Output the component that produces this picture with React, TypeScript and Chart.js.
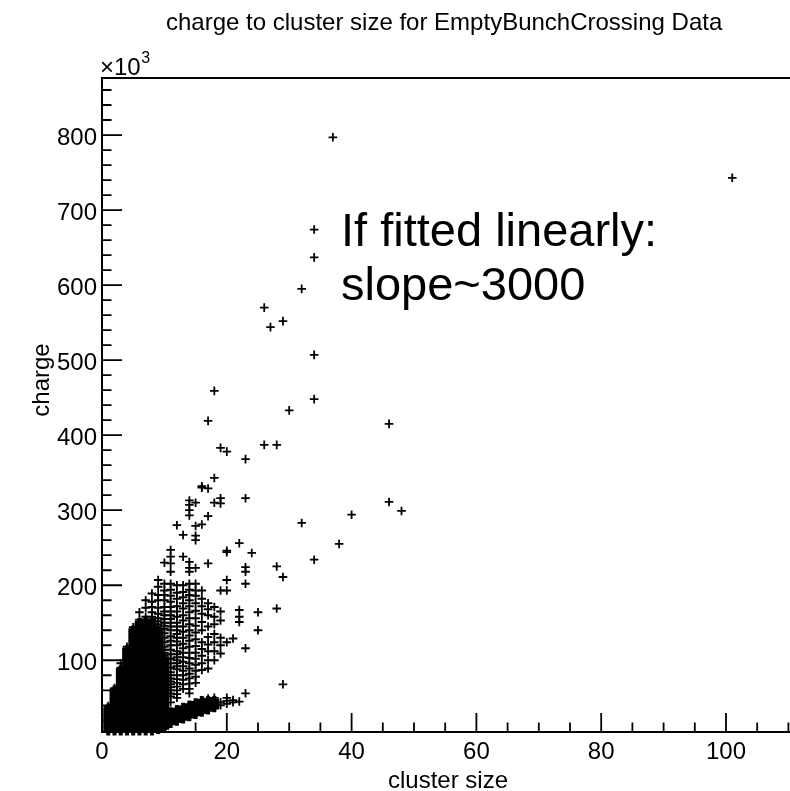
import React, { useEffect, useRef } from "react";
import { Chart, registerables } from "chart.js";

Chart.register(...registerables);

// ---------- texts ----------
const TITLE = "charge to cluster size for EmptyBunchCrossing Data";
const X_TITLE = "cluster size";
const Y_TITLE = "charge";
const NOTE_LINES = ["If fitted linearly:", "slope~3000"];
const Y_EXPONENT = "3";

// ---------- axes ----------
const X_RANGE = [0, 112.5];
const Y_RANGE = [4.4, 876]; // charge in units of 10^3
const X_TICKS = [0, 20, 40, 60, 80, 100];
const Y_TICKS = [100, 200, 300, 400, 500, 600, 700, 800];
const X_MINOR_STEP = 5;
const Y_MINOR_STEP = 20;

// ---------- data (charge in units of 10^3) ----------
// densely populated region (thousands of overlapping entries): cluster size -> charges
const coreSizes = [1, 2, 3, 4, 5, 6, 7, 8, 9, 10, 11, 12, 13, 14, 15, 16, 17, 18];
const coreCharges: number[][] = [
  /* 1 */ [6, 9, 12, 15, 18, 21, 24, 27, 30, 33, 36],
  /* 2 */ [6, 9, 12, 15, 18, 21, 24, 27, 30, 33, 36, 39, 42, 45, 48, 51, 54, 57, 60],
  /* 3 */ [6, 9, 12, 15, 18, 21, 24, 27, 30, 33, 36, 39, 42, 45, 48, 51, 54, 57, 60, 63, 66, 69, 72, 75, 78, 81, 84, 87],
  /* 4 */ [6, 9, 12, 15, 18, 21, 24, 27, 30, 33, 36, 39, 42, 45, 48, 51, 54, 57, 60, 63, 66, 69, 72, 75, 78, 82, 86, 90, 94, 98, 102, 106, 110, 114],
  /* 5 */ [6, 9, 12, 15, 18, 21, 24, 27, 30, 33, 36, 39, 42, 45, 48, 51, 54, 57, 60, 63, 66, 69, 72, 75, 78, 81, 84, 87, 90, 93, 96, 100, 104, 108, 112, 116, 120, 124, 128, 132, 136, 140],
  /* 6 */ [6, 9, 12, 15, 18, 21, 24, 27, 30, 33, 36, 39, 42, 45, 48, 51, 54, 57, 60, 63, 66, 69, 72, 75, 78, 81, 84, 87, 90, 93, 96, 99, 102, 106, 110, 114, 118, 122, 126, 130, 134, 138, 142, 146, 150],
  /* 7 */ [6, 9, 12, 15, 18, 21, 24, 27, 30, 33, 36, 39, 42, 45, 48, 51, 54, 57, 60, 63, 66, 69, 72, 75, 78, 81, 84, 87, 90, 93, 96, 99, 102, 106, 110, 114, 118, 122, 126, 130, 134, 138, 142, 146, 150, 153],
  /* 8 */ [6, 9, 12, 15, 18, 21, 24, 27, 30, 33, 36, 39, 42, 45, 48, 51, 54, 57, 60, 63, 66, 69, 72, 75, 78, 81, 84, 87, 90, 93, 96, 99, 102, 106, 110, 114, 118, 122, 126, 130, 134, 138, 142, 146, 150],
  /* 9 */ [8, 11, 14, 17, 20, 23, 26, 29, 32, 35, 38, 41, 44, 47, 50, 53, 56, 60, 64, 68, 72, 76, 80, 84, 88, 92, 96, 100, 104, 108, 112, 116, 120, 124, 128, 132, 136, 140],
  /* 10 */ [10, 13, 16, 19, 22, 25, 28, 31, 34, 37, 40, 43, 46, 50, 54, 58, 62, 66, 70, 74, 78, 82, 86, 90, 94, 98, 102],
  /* 11 */ [16, 19, 22, 25, 28, 31],
  /* 12 */ [19, 22, 25, 28, 31, 34],
  /* 13 */ [22, 25, 28, 31, 34, 37],
  /* 14 */ [25, 28, 31, 34, 37, 40],
  /* 15 */ [28, 31, 34, 37, 40, 43],
  /* 16 */ [31, 34, 37, 40, 43, 46],
  /* 17 */ [34, 37, 40, 43, 46],
  /* 18 */ [37, 40, 43, 46],
];

// individually resolved entries: cluster size -> charges
const clusterSizes = [
  1, 2, 3, 4, 5, 6, 7, 8, 9, 10, 11, 12, 13, 14, 15, 16, 17, 18, 19, 20, 21, 22, 23, 24, 25,
  26, 27, 28, 29, 30, 32, 34, 37, 38, 40, 46, 48, 101,
];
const chargesAtSize: number[][] = [
  /* 1 */ [39],
  /* 2 */ [63],
  /* 3 */ [90, 96],
  /* 4 */ [118],
  /* 5 */ [144],
  /* 6 */ [154, 164],
  /* 7 */ [158, 170, 180],
  /* 8 */ [154, 158, 164, 171, 178, 189],
  /* 9 */ [144, 148, 152, 156, 162, 170, 180, 187, 198, 207],
  /* 10 */ [106, 110, 114, 118, 124, 130, 136, 142, 146, 150, 155, 160, 165, 171, 180, 187, 193, 202, 230],
  /* 11 */ [44, 52, 56, 60, 64, 68, 72, 76, 80, 84, 90, 96, 102, 108, 114, 120, 126, 132, 140, 145, 150, 155, 160, 165, 171, 178, 186, 194, 202, 218, 229, 238, 247],
  /* 12 */ [50, 55, 60, 65, 70, 75, 80, 88, 92, 96, 100, 104, 108, 112, 120, 125, 130, 135, 140, 145, 150, 158, 165, 172, 182, 190, 200, 280],
  /* 13 */ [62, 68, 74, 80, 86, 92, 98, 104, 110, 116, 122, 130, 138, 145, 153, 160, 169, 176, 184, 191, 200, 238, 267],
  /* 14 */ [56, 62, 69, 76, 82, 89, 96, 103, 110, 118, 126, 133, 140, 148, 156, 164, 172, 180, 187, 194, 202, 218, 223, 231, 293, 300, 307, 313],
  /* 15 */ [70, 78, 86, 94, 102, 110, 119, 128, 137, 146, 156, 166, 176, 186, 193, 202, 223, 260, 266, 279, 310],
  /* 16 */ [87, 96, 106, 115, 124, 140, 151, 162, 172, 182, 193, 281, 330, 332],
  /* 17 */ [49, 89, 100, 112, 121, 131, 145, 160, 168, 176, 229, 292, 329, 419],
  /* 18 */ [50, 100, 112, 124, 135, 148, 158, 171, 310, 343, 459],
  /* 19 */ [40, 44, 109, 120, 130, 153, 165, 193, 309, 316, 383],
  /* 20 */ [42, 46, 50, 124, 193, 207, 244, 246, 378],
  /* 21 */ [44, 47, 129],
  /* 22 */ [45, 151, 158, 167, 256],
  /* 23 */ [56, 116, 202, 218, 224, 316, 368],
  /* 24 */ [243],
  /* 25 */ [140, 164],
  /* 26 */ [387, 570],
  /* 27 */ [544],
  /* 28 */ [169, 225, 387],
  /* 29 */ [68, 211, 552],
  /* 30 */ [433],
  /* 32 */ [283, 595],
  /* 34 */ [234, 448, 507, 637, 674],
  /* 37 */ [797],
  /* 38 */ [255],
  /* 40 */ [294],
  /* 46 */ [311, 415],
  /* 48 */ [299],
  /* 101 */ [743],
];

const CANVAS_W = 860;
const CANVAS_H = 791;
const FONT = '"Liberation Sans", Arial, Helvetica, sans-serif';

const rootFramePlugin = {
  id: "rootFrame",
  afterDraw(chart: any) {
    const { ctx, chartArea, scales } = chart;
    const { left, right, top, bottom } = chartArea;
    const xs = scales.x;
    const ys = scales.y;
    ctx.save();
    ctx.strokeStyle = "#000";
    ctx.fillStyle = "#000";

    // frame
    ctx.lineWidth = 2;
    ctx.beginPath();
    ctx.moveTo(left, top);
    ctx.lineTo(right, top);
    ctx.lineTo(right, bottom);
    ctx.lineTo(left, bottom);
    ctx.closePath();
    ctx.stroke();

    // ticks (inward)
    ctx.lineWidth = 1.8;
    ctx.beginPath();
    for (let v = X_RANGE[0]; v <= X_RANGE[1]; v += X_MINOR_STEP) {
      const px = xs.getPixelForValue(v);
      const major = X_TICKS.includes(v);
      ctx.moveTo(px, bottom);
      ctx.lineTo(px, bottom - (major ? 19 : 9.5));
    }
    for (let v = Y_MINOR_STEP; v <= Y_RANGE[1]; v += Y_MINOR_STEP) {
      if (v < Y_RANGE[0]) continue;
      const py = ys.getPixelForValue(v);
      const major = Y_TICKS.includes(v);
      ctx.moveTo(left, py);
      ctx.lineTo(left + (major ? 20 : 9.5), py);
    }
    ctx.stroke();

    // tick labels
    ctx.font = `24px ${FONT}`;
    ctx.textBaseline = "alphabetic";
    ctx.textAlign = "center";
    X_TICKS.forEach((v) => {
      ctx.fillText(String(v), xs.getPixelForValue(v), bottom + 26.5);
    });
    ctx.textAlign = "right";
    Y_TICKS.forEach((v) => {
      ctx.fillText(String(v), left - 5, ys.getPixelForValue(v) + 9.5);
    });

    // exponent label x10^3
    ctx.textAlign = "left";
    ctx.font = `24px ${FONT}`;
    ctx.fillText("\u00d710", left - 2, top - 3);
    const w = ctx.measureText("\u00d710").width;
    ctx.font = `16px ${FONT}`;
    ctx.fillText(Y_EXPONENT, left - 2 + w + 0.5, top - 15);

    // title
    ctx.font = `24px ${FONT}`;
    ctx.textAlign = "left";
    ctx.fillText(TITLE, left + 64, 30);

    // axis titles
    ctx.textAlign = "center";
    ctx.fillText(X_TITLE, (left + right) / 2 - 5, bottom + 55.5);
    ctx.save();
    ctx.translate(left - 53, 380);
    ctx.rotate(-Math.PI / 2);
    ctx.fillText(Y_TITLE, 0, 0);
    ctx.restore();

    // annotation
    ctx.font = `47px ${FONT}`;
    ctx.textAlign = "left";
    NOTE_LINES.forEach((line, i) => {
      ctx.fillText(line, left + 239, 246 + i * 54);
    });
    ctx.restore();
  },
};

export default function App() {
  const canvasRef = useRef<HTMLCanvasElement | null>(null);

  useEffect(() => {
    const canvas = canvasRef.current;
    if (!canvas) return;
    const corePoints = coreSizes.flatMap((size, i) =>
      coreCharges[i].map((charge) => ({ x: size, y: charge }))
    );
    const points = clusterSizes.flatMap((size, i) =>
      chargesAtSize[i].map((charge) => ({ x: size, y: charge }))
    );
    const marker = {
      pointStyle: "cross",
      borderColor: "#000",
      backgroundColor: "#000",
      pointBorderColor: "#000",
      clip: false as any,
    };
    const chart = new Chart(canvas, {
      type: "scatter",
      data: {
        datasets: [
          {
            ...marker,
            data: corePoints,
            pointRadius: 4.8,
            pointHoverRadius: 4.8,
            borderWidth: 4,
            pointBorderWidth: 4,
          },
          {
            ...marker,
            data: points,
            pointRadius: 4.3,
            pointHoverRadius: 4.3,
            borderWidth: 1.8,
            pointBorderWidth: 1.8,
          },
        ],
      },
      options: {
        animation: false,
        responsive: false,
        events: [],
        layout: {
          padding: { left: 102, top: 78, right: CANVAS_W - 804, bottom: CANVAS_H - 732 },
        },
        scales: {
          x: { type: "linear", min: X_RANGE[0], max: X_RANGE[1], display: false },
          y: { type: "linear", min: Y_RANGE[0], max: Y_RANGE[1], display: false },
        },
        plugins: {
          legend: { display: false },
          tooltip: { enabled: false },
          title: { display: false },
        },
      },
      plugins: [rootFramePlugin],
    });
    return () => chart.destroy();
  }, []);

  return (
    <div
      style={{
        position: "fixed",
        left: 0,
        top: 0,
        width: 790,
        height: 791,
        overflow: "hidden",
        background: "#fff",
      }}
    >
      <canvas
        ref={canvasRef}
        width={CANVAS_W}
        height={CANVAS_H}
        style={{ display: "block", width: CANVAS_W, height: CANVAS_H }}
      />
    </div>
  );
}
